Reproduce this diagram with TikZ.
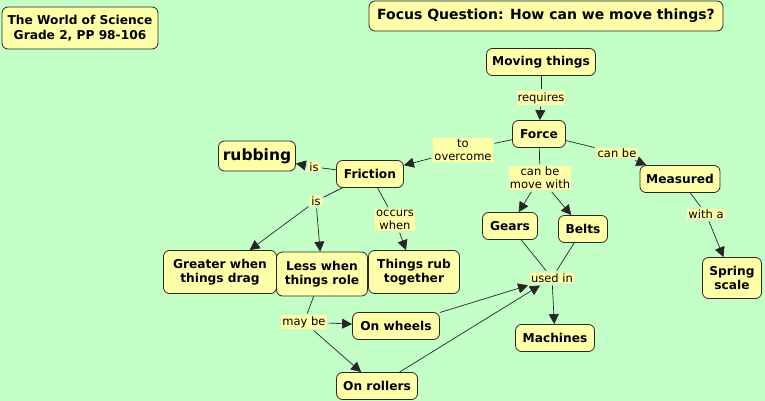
\documentclass[tikz,border=0pt]{standalone}
\usepackage{fontspec}
\setmainfont{DejaVu Sans}
\usepackage{xcolor}
\usetikzlibrary{arrows.meta,positioning}
\definecolor{mapgreen}{RGB}{196,255,200}
\definecolor{mapyellow}{RGB}{255,255,170}
\definecolor{mapedge}{RGB}{40,40,30}

\begin{document}
\begin{tikzpicture}[x=1pt,y=-1pt,
  concept/.style={draw=mapedge, fill=mapyellow, rounded corners=6pt, line width=0.8pt,
    font=\fontsize{12.2}{14.5}\selectfont\bfseries, align=center, inner sep=2pt, minimum height=27pt},
  linklabel/.style={fill=mapyellow, font=\fontsize{11.5}{13}\selectfont, align=center, inner sep=1pt, outer sep=2pt},
  link/.style={draw=black!85, line width=0.7pt},
  arr/.style={link, -{Triangle[length=10pt,width=10pt]}}]
  % background, also fixes the page size
  \fill[mapgreen] (0,0) rectangle (765,401);
  \useasboundingbox (0,0) rectangle (765,401);
  % concepts
  \node[concept, minimum width=156pt, minimum height=42pt] (world) at (80,28) {The World of Science\\Grade 2, PP 98-106};
  \node[concept, minimum width=354pt, minimum height=30pt, font=\fontsize{14}{16}\selectfont\bfseries] (focus) at (546,16) {Focus Question: How can we move things?};
  \node[concept, minimum width=109pt] (moving) at (541,62) {Moving things};
  \node[concept, minimum width=53pt] (force) at (539,134) {Force};
  \node[concept, minimum width=67pt] (friction) at (370,174) {Friction};
  \node[concept, minimum width=77pt, minimum height=30pt, font=\fontsize{15.5}{17}\selectfont\bfseries] (rubbing) at (257,156) {rubbing};
  \node[concept, minimum width=80pt] (measured) at (680,179) {Measured};
  \node[concept, minimum width=55pt] (gears) at (510,226) {Gears};
  \node[concept, minimum width=49pt] (belts) at (583,229) {Belts};
  \node[concept, minimum width=59pt, minimum height=41pt] (spring) at (732,278) {Spring\\scale};
  \node[concept, minimum width=79pt] (machines) at (555,338) {Machines};
  \node[concept, minimum width=113pt, minimum height=43pt] (greater) at (220,272) {Greater when\\things drag};
  \node[concept, minimum width=91pt, minimum height=44pt] (less) at (322,274) {Less when\\things role};
  \node[concept, minimum width=91pt, minimum height=43pt] (rub) at (414,272) {Things rub\\together};
  \node[concept, minimum width=87pt] (wheels) at (396,326) {On wheels};
  \node[concept, minimum width=81pt] (rollers) at (377,386) {On rollers};
  % linking phrases
  \node[linklabel] (requires) at (541,98) {requires};
  \node[linklabel] (overcome) at (463,150) {to\\overcome};
  \node[linklabel] (isrub) at (314,167) {is};
  \node[linklabel] (canbe) at (617,153) {can be};
  \node[linklabel] (movewith) at (540,178) {can be\\move with};
  \node[linklabel] (witha) at (706,214) {with a};
  \node[linklabel] (usedin) at (552,278) {used in};
  \node[linklabel] (isfric) at (316,201) {is};
  \node[linklabel] (occurs) at (395,220) {occurs\\when};
  \node[linklabel] (maybe) at (304,322) {may be};
  % connectors
  \draw[link] (moving) -- (requires);
  \draw[arr] (requires) -- (force);
  \draw[link] (force) -- (overcome);
  \draw[arr] (overcome) -- (friction);
  \draw[link] (friction) -- (isrub);
  \draw[arr] (isrub) -- (rubbing);
  \draw[link] (force) -- (canbe);
  \draw[arr] (canbe) -- (measured);
  \draw[link] (force) -- (movewith);
  \foreach \t in {gears, belts}
    \draw[arr] (movewith) -- (\t);
  \draw[link] (measured) -- (witha);
  \draw[arr] (witha) -- (spring);
  \foreach \s in {gears, belts}
    \draw[link] (\s) -- (usedin);
  \draw[arr] (usedin) -- (machines);
  \draw[link] (friction) -- (isfric);
  \foreach \t in {greater, less}
    \draw[arr] (isfric) -- (\t);
  \draw[link] (friction) -- (occurs);
  \draw[arr] (occurs) -- (rub);
  \draw[link] (less) -- (maybe);
  \foreach \t in {wheels, rollers}
    \draw[arr] (maybe) -- (\t);
  \draw[arr] (wheels) -- (usedin);
  \draw[arr] (rollers) -- (usedin);
\end{tikzpicture}
\end{document}
